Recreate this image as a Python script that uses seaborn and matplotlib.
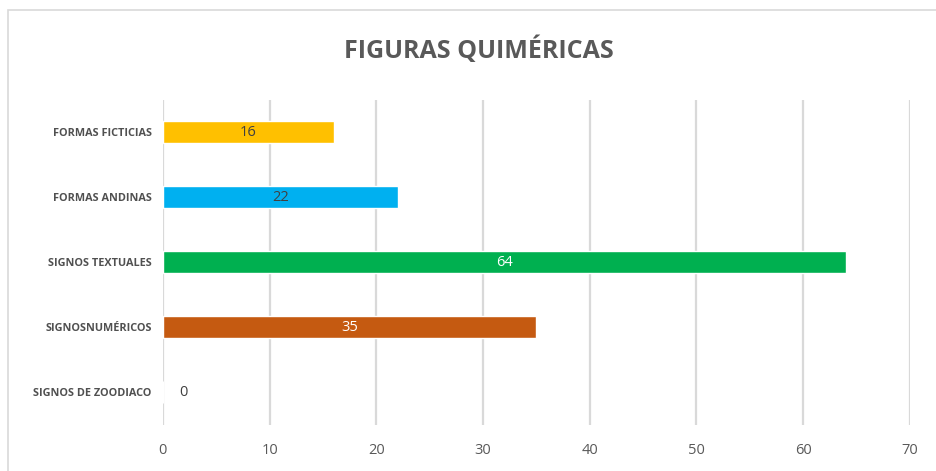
import matplotlib
matplotlib.use("Agg")
import matplotlib.pyplot as plt
import seaborn as sns
import pandas as pd
from matplotlib.patches import Rectangle

categories = ["FORMAS FICTICIAS", "FORMAS ANDINAS", "SIGNOS TEXTUALES", "SIGNOSNUMÉRICOS", "SIGNOS DE ZOODIACO"]
values = [16, 22, 64, 35, 0]
colors = ["#FFC000", "#00B0F0", "#00B050", "#C55A11", "#7F7F7F"]
label_colors = ["#404040", "#404040", "#FFFFFF", "#FFFFFF", "#404040"]
xticks = [0, 10, 20, 30, 40, 50, 60, 70]

sns.set_theme(style="white")
plt.rcParams["font.family"] = ["Open Sans", "DejaVu Sans"]

df = pd.DataFrame({"cat": categories, "val": values})

fig = plt.figure(figsize=(9.36, 4.71), dpi=100)
ax = fig.add_axes([0.174, 0.098, 0.798, 0.690])

sns.barplot(data=df, y="cat", x="val", hue="cat", palette=colors, orient="h",
            width=0.34, legend=False, ax=ax, saturation=1)

ax.set_xlim(0, 70)
ax.set_ylim(4.5, -0.5)
ax.set_xticks(xticks)
ax.set_xticklabels([str(t) for t in xticks], fontsize=10.5, color="#595959")
ax.tick_params(axis="y", labelsize=7.8, colors="#505050", length=0, pad=8)
ax.tick_params(axis="x", length=0, pad=13)
for lbl in ax.get_yticklabels():
    lbl.set_fontweight("bold")
ax.set_xlabel("")
ax.set_ylabel("")
ax.grid(axis="x", color="#D9D9D9", linewidth=1.6)
ax.set_axisbelow(True)
for s in ax.spines.values():
    s.set_visible(False)

for i, (v, c) in enumerate(zip(values, label_colors)):
    if v > 0:
        ax.text(v / 2, i, str(v), ha="center", va="center", fontsize=10.5, color=c)
    else:
        ax.annotate(str(v), (v, i), xytext=(11.5, 0), textcoords="offset points",
                    ha="left", va="center", fontsize=10.5, color="#404040")

fig.text(0.512, 0.893, "FIGURAS QUIMÉRICAS", ha="center", va="center",
         fontsize=18, fontweight="bold", color="#595959")

fig.patches.append(Rectangle((8 / 936, -0.1), 1.2, 1 - 10 / 471 + 0.1, transform=fig.transFigure,
                             fill=False, edgecolor="#D9D9D9", linewidth=1.2))

fig.savefig("out.png", dpi=100)
